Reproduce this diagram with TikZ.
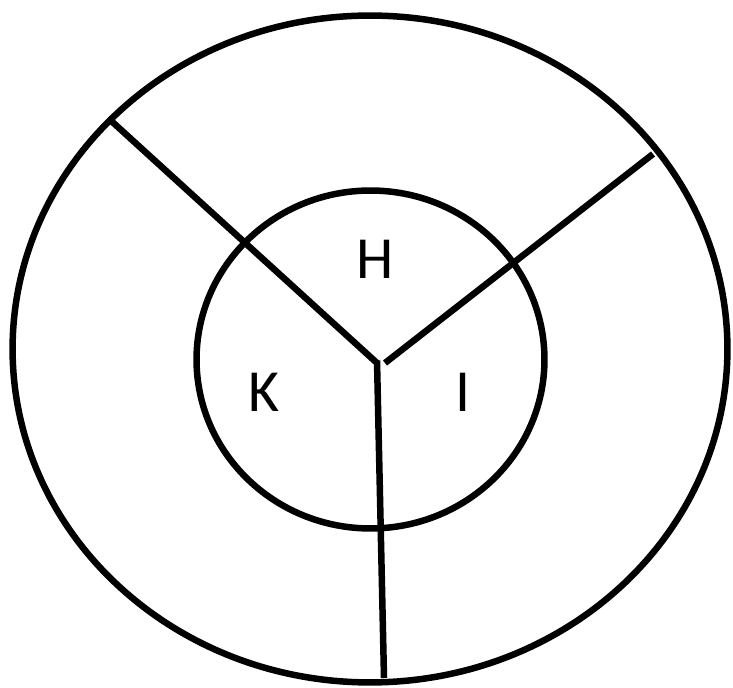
\documentclass[tikz,border=0pt]{standalone}
\usepackage{fontspec}
\setmainfont{Carlito}
\tikzset{
  ring/.style={
    line width = 0.13cm,
    draw
  },
  spoke/.style={
    line width = 0.13cm,
    line cap = butt
  },
  sector/.style={
    font = \fontsize{34}{40}\selectfont,
    inner sep = 0pt
  },
}

\begin{document}
\begin{tikzpicture}[x=0.02cm, y=-0.02cm]
  \useasboundingbox (0,0) rectangle (733,688);
  \draw[ring] (370,349) ellipse [x radius=7.15cm, y radius=6.67cm];
  \draw[ring] (370.5,359.5) ellipse [x radius=3.48cm, y radius=3.38cm];
  \coordinate (hub) at (377,363);
  \coordinate (hubr) at (385,363);
  \coordinate (nw) at (108,118);
  \coordinate (ne) at (653,154);
  \coordinate (s) at (384,678);
  \draw[spoke] (nw) -- (hub);
  \draw[spoke] (hubr) -- (ne);
  \draw[spoke] ([yshift=0.05cm]hub) -- (s);
 \node[sector] (H) at (375,259) {H};
 \node[sector] (K) at (264,392) {K};
 \node[sector] (I) at (463,392) {I};
\end{tikzpicture}
\end{document}
